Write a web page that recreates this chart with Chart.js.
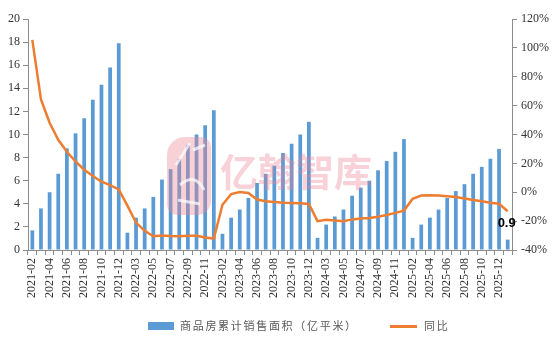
<!DOCTYPE html>
<html><head><meta charset="utf-8">
<script src="https://cdn.jsdelivr.net/npm/chart.js@4/dist/chart.umd.min.js"></script>
<style>html,body{margin:0;padding:0;background:#fff;}#wrap{width:554px;height:354px;}</style>
</head><body><div id="wrap"><canvas id="c" width="554" height="354"></canvas></div>
<script>
const categories = [
 "2021-02","2021-03","2021-04","2021-05","2021-06","2021-07","2021-08","2021-09","2021-10","2021-11","2021-12",
 "2022-02","2022-03","2022-04","2022-05","2022-06","2022-07","2022-08","2022-09","2022-10","2022-11","2022-12",
 "2023-02","2023-03","2023-04","2023-05","2023-06","2023-07","2023-08","2023-09","2023-10","2023-11","2023-12",
 "2024-02","2024-03","2024-04","2024-05","2024-06","2024-07","2024-08","2024-09","2024-10","2024-11","2024-12",
 "2025-02","2025-03","2025-04","2025-05","2025-06","2025-07","2025-08","2025-09","2025-10","2025-11","2025-12",
 "2026-02"
];
const salesArea = [
 1.7,3.6,5.0,6.6,8.8,10.1,11.4,13.0,14.3,15.8,17.9,
 1.5,2.8,3.6,4.6,6.1,7.0,7.9,9.1,10.0,10.8,12.1,
 1.4,2.8,3.5,4.5,5.8,6.6,7.3,8.4,9.2,10.0,11.1,
 1.05,2.2,2.9,3.5,4.7,5.4,6.0,6.9,7.7,8.5,9.6,
 1.05,2.2,2.8,3.5,4.5,5.1,5.7,6.6,7.2,7.9,8.75,
 0.9
];
const yoy = [
 105.5,64.3,48.1,36.3,28.0,21.3,15.6,11.2,7.3,5.0,2.0,
 -9.3,-21.0,-26.7,-30.5,-29.9,-30.3,-30.5,-30.1,-30.1,-31.3,-32.1,
 -8.7,-1.3,0.2,-0.5,-5.0,-6.2,-6.7,-7.2,-7.4,-7.6,-8.1,
 -20.0,-19.1,-19.6,-20.0,-18.8,-18.2,-17.8,-16.9,-15.7,-14.3,-12.7,
 -4.5,-2.3,-2.1,-2.2,-2.8,-3.3,-4.3,-5.3,-6.3,-7.3,-8.0,
 -13.2
];
const leftTicks = {min:0, max:20, step:2};
const rightTicks = {min:-40, max:120, step:20};
const barName = "商品房累计销售面积（亿平米）";
const lineName = "同比";
const watermark = "亿翰智库";

const BLUE = '#5B9BD5', ORANGE = '#ED7D31', AXIS = '#8c8c8c', TXT = '#333333';
const serif = '"Liberation Serif", "DejaVu Serif", serif';
const cjk = '"Noto Sans CJK SC", sans-serif';

const extras = {
  id: 'extras',
  afterDatasetsDraw(chart) {
    const ctx = chart.ctx;
    const meta = chart.getDatasetMeta(1);
    const last = meta.data[meta.data.length - 1];
    ctx.save();
    ctx.font = 'bold 13px "Liberation Sans", sans-serif';
    ctx.fillStyle = '#000';
    ctx.textAlign = 'center';
    ctx.textBaseline = 'bottom';
    ctx.fillText(String(salesArea[salesArea.length - 1]), last.x - 1, last.y - 10);
    ctx.restore();
  },
  afterDraw(chart) {
    const ctx = chart.ctx;
    ctx.save();
    // watermark logo
    ctx.globalAlpha = 0.38;
    ctx.fillStyle = '#ec8592';
    ctx.beginPath();
    ctx.roundRect(167, 137, 44, 78, [18, 10, 14, 10]);
    ctx.fill();
    ctx.globalAlpha = 0.7;
    ctx.strokeStyle = '#fff';
    ctx.lineWidth = 3;
    ctx.beginPath();
    ctx.moveTo(176, 165); ctx.lineTo(190, 143);
    ctx.moveTo(193, 150); ctx.lineTo(205, 145);
    ctx.moveTo(180, 185); ctx.quadraticCurveTo(195, 172, 204, 190);
    ctx.moveTo(178, 200); ctx.lineTo(200, 204);
    ctx.stroke();
    // watermark text
    ctx.globalAlpha = 0.35;
    ctx.fillStyle = '#ec7f8e';
    ctx.font = '700 38px ' + cjk;
    ctx.textBaseline = 'middle';
    ctx.textAlign = 'left';
    ctx.fillText(watermark, 220, 172);
    ctx.restore();

    // legend
    ctx.save();
    ctx.fillStyle = BLUE;
    ctx.fillRect(148, 322, 26, 8);
    ctx.strokeStyle = ORANGE;
    ctx.lineWidth = 3;
    ctx.beginPath(); ctx.moveTo(390, 326.5); ctx.lineTo(417, 326.5); ctx.stroke();
    ctx.fillStyle = '#595959';
    ctx.font = '11px ' + cjk;
    ctx.letterSpacing = '1.7px';
    ctx.textBaseline = 'middle';
    ctx.textAlign = 'left';
    ctx.fillText(barName, 180, 326);
    ctx.fillText(lineName, 424, 326);
    ctx.restore();
  }
};

new Chart(document.getElementById('c'), {
  data: {
    labels: categories,
    datasets: [
      { type: 'line', label: lineName, data: yoy, yAxisID: 'y1', borderColor: ORANGE, borderWidth: 2.5,
        pointRadius: 0, tension: 0, order: 0, fill: false },
      { type: 'bar', label: barName, data: salesArea, yAxisID: 'y', backgroundColor: BLUE,
        categoryPercentage: 0.9, barPercentage: 0.48, order: 1 }
    ]
  },
  options: {
    responsive: false, animation: false, devicePixelRatio: 1,
    layout: { padding: { top: 19, bottom: 44, left: 0, right: 0 } },
    plugins: { legend: { display: false }, tooltip: { enabled: false } },
    scales: {
      x: {
        offset: true,
        grid: { offset: true, drawOnChartArea: false, drawTicks: true, tickLength: 5, color: AXIS },
        border: { color: AXIS },
        ticks: { autoSkip: false, maxRotation: 90, minRotation: 90, padding: 3, color: TXT,
          font: { family: serif, size: 12 },
          callback: function(v, i) { return i % 2 === 0 ? this.getLabelForValue(v) : ''; } },
        afterFit: s => { s.height = 60; }
      },
      y: {
        position: 'left', min: leftTicks.min, max: leftTicks.max,
        grid: { drawOnChartArea: false, drawTicks: true, tickLength: 5, color: AXIS },
        border: { color: AXIS },
        ticks: { stepSize: leftTicks.step, padding: 3, color: TXT, font: { family: serif, size: 12 } },
        afterFit: s => { s.width = 28; }
      },
      y1: {
        position: 'right', min: rightTicks.min, max: rightTicks.max,
        grid: { drawOnChartArea: false, drawTicks: true, tickLength: 5, color: AXIS },
        border: { color: AXIS },
        ticks: { stepSize: rightTicks.step, padding: 4, color: TXT, font: { family: serif, size: 12 },
          callback: v => v + '%' },
        afterFit: s => { s.width = 42; }
      }
    }
  },
  plugins: [extras]
});
</script></body></html>
